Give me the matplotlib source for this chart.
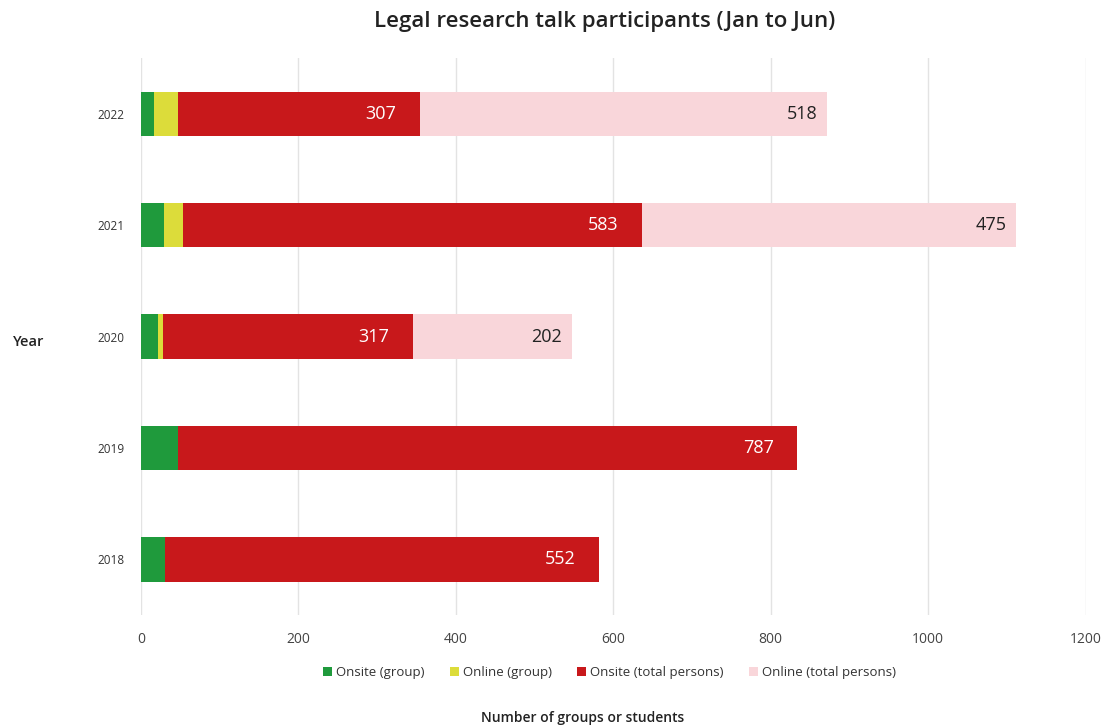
import numpy as np
import matplotlib
matplotlib.use("Agg")
import matplotlib.pyplot as plt

plt.rcParams['font.family'] = ['Open Sans', 'DejaVu Sans']

years = ['2018', '2019', '2020', '2021', '2022']
onsite_group = [30, 47, 21, 29, 17]
online_group = [0, 0, 7, 25, 30]
onsite_total = [552, 787, 317, 583, 307]
online_total = [0, 0, 202, 475, 518]

series = [
    ('Onsite (group)', onsite_group, '#1f9a3c'),
    ('Online (group)', online_group, '#dcdc3a'),
    ('Onsite (total persons)', onsite_total, '#c8181b'),
    ('Online (total persons)', online_total, '#f9d6da'),
]

fig = plt.figure(figsize=(11.10, 7.27), dpi=100)
ax = fig.add_axes([0.127, 0.154, 0.851, 0.766])

y = np.arange(len(years))
left = np.zeros(len(years))
for name, vals, color in series:
    vals = np.array(vals, dtype=float)
    bars = ax.barh(y, vals, left=left, height=0.4, color=color, label=name, zorder=3)
    if name == 'Onsite (total persons)':
        for yi, l, v in zip(y, left, vals):
            ax.annotate(str(int(v)), (l + v, yi), xytext=(-17, 0), textcoords='offset points',
                        ha='right', va='center', color='white', fontsize=13)
    if name == 'Online (total persons)':
        for yi, l, v in zip(y, left, vals):
            if v > 0:
                ax.annotate(str(int(v)), (l + v, yi), xytext=(-7, 0), textcoords='offset points',
                            ha='right', va='center', color='#222222', fontsize=13)
    left = left + vals

ax.set_xlim(0, 1200)
ax.set_ylim(-0.5, 4.5)
ax.set_xticks(np.arange(0, 1201, 200))
ax.set_yticks(y)
ax.set_yticklabels(years, fontsize=8.5)
ax.tick_params(axis='x', labelsize=10, colors='#444444', length=0, pad=12)
ax.tick_params(axis='y', length=0, pad=12, colors='#333333')
ax.grid(axis='x', color='#e3e3e3', linewidth=1, zorder=0)
for s in ax.spines.values():
    s.set_visible(False)

fig.suptitle('Legal research talk participants (Jan to Jun)', x=0.545, y=0.985,
             fontsize=16, fontweight='semibold', color='#222222')
fig.text(0.012, 0.53, 'Year', fontsize=10.5, fontweight='semibold', ha='left', va='center', color='#222222')
fig.text(0.525, 0.012, 'Number of groups or students', fontsize=10, fontweight='semibold',
         ha='center', va='center', color='#222222')

ax.legend(loc='upper center', bbox_to_anchor=(0.496, -0.07), ncol=4, frameon=False,
          fontsize=9.5, handlelength=0.7, handleheight=0.7, handletextpad=0.3, columnspacing=1.9,
          labelcolor='#333333')

fig.savefig('out.png', dpi=100)
